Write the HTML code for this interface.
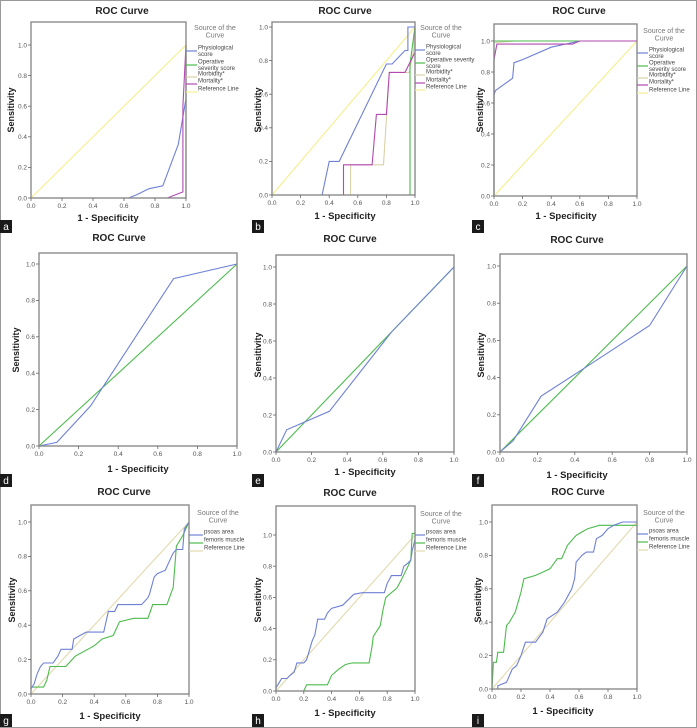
<!DOCTYPE html>
<html><head><meta charset="utf-8">
<style>
html,body{margin:0;padding:0;background:#fff;}
svg{display:block;font-family:"Liberation Sans",sans-serif;}
</style></head>
<body>
<svg id="fig" width="697" height="728" viewBox="0 0 697 728">
<rect x="0.5" y="0.5" width="696" height="727" fill="#fff" stroke="#999" stroke-width="1"/>
</svg>
<script>
// ---- data arrays (x = 1-specificity, y = sensitivity) ----
const refX = [0, 1];
const refY = [0, 1];
// panel a
const aPhysX = [0, 0.63, 0.68, 0.76, 0.85, 0.95, 1, 1];
const aPhysY = [0, 0, 0.02, 0.06, 0.08, 0.35, 0.65, 1];
const aOperX = [0, 1, 1];
const aOperY = [0, 0, 1];
const aMorbX = [0, 1, 1];
const aMorbY = [0, 0, 1];
const aMortX = [0, 0.88, 0.98, 0.98, 1];
const aMortY = [0, 0, 0.04, 0.6, 1];
// panel b
const bPhysX = [0, 0.35, 0.4, 0.47, 0.8, 0.84, 0.93, 0.95, 0.95, 1];
const bPhysY = [0, 0, 0.2, 0.2, 0.78, 0.78, 0.86, 0.86, 1, 1];
const bOperX = [0, 0.965, 0.965, 1];
const bOperY = [0, 0, 0.78, 1];
const bMorbX = [0, 0.55, 0.55, 0.78, 0.82, 0.96, 0.99, 1];
const bMorbY = [0, 0, 0.18, 0.18, 0.73, 0.73, 0.86, 1];
const bMortX = [0, 0.5, 0.5, 0.7, 0.73, 0.8, 0.82, 0.93, 1, 1];
const bMortY = [0, 0, 0.18, 0.18, 0.48, 0.48, 0.73, 0.73, 0.85, 1];
// panel c
const cPhysX = [0, 0, 0.01, 0.13, 0.14, 0.2, 0.4, 0.6, 1];
const cPhysY = [0, 0.65, 0.68, 0.76, 0.86, 0.88, 0.96, 1, 1];
const cOperX = [0, 0, 1];
const cOperY = [0, 1, 1];
const cMorbX = [0, 0, 0.15, 1];
const cMorbY = [0, 0.99, 1, 1];
const cMortX = [0, 0, 0.02, 0.55, 0.6, 1];
const cMortY = [0, 0.88, 0.98, 0.98, 1, 1];
// panels d-f
const dBlueX = [0, 0.09, 0.26, 0.68, 1];
const dBlueY = [0, 0.02, 0.22, 0.92, 1];
const eBlueX = [0, 0.06, 0.3, 0.65, 1];
const eBlueY = [0, 0.12, 0.22, 0.65, 1];
const fBlueX = [0, 0.07, 0.22, 0.45, 0.8, 1];
const fBlueY = [0, 0.06, 0.3, 0.45, 0.68, 1];
// panel g
const gPsoasX = [0,0.02,0.04,0.06,0.08,0.14,0.17,0.19,0.26,0.27,0.31,0.35,0.46,0.49,0.53,0.55,0.7,0.74,0.75,0.78,0.8,0.85,0.88,0.9,0.92,0.96,0.97,1];
const gPsoasY = [0.03,0.06,0.12,0.16,0.18,0.18,0.22,0.26,0.26,0.32,0.34,0.36,0.36,0.48,0.48,0.52,0.52,0.56,0.58,0.68,0.7,0.72,0.78,0.82,0.84,0.84,0.96,1];
const gFemX = [0,0.08,0.1,0.12,0.22,0.28,0.4,0.45,0.52,0.56,0.65,0.74,0.77,0.86,0.9,0.92,0.96,0.98,1];
const gFemY = [0.04,0.04,0.08,0.16,0.16,0.22,0.28,0.32,0.34,0.42,0.44,0.44,0.52,0.52,0.62,0.86,0.92,0.96,1];
// panel h
const hPsoasX = [0,0,0.02,0.04,0.08,0.1,0.13,0.15,0.2,0.22,0.26,0.28,0.3,0.35,0.37,0.4,0.48,0.56,0.62,0.78,0.8,0.83,0.9,0.92,0.95,0.97,0.98,1,1];
const hPsoasY = [0,0.02,0.05,0.08,0.08,0.1,0.12,0.18,0.18,0.2,0.32,0.36,0.46,0.46,0.5,0.53,0.55,0.62,0.63,0.63,0.69,0.74,0.74,0.8,0.82,0.84,0.9,0.97,1];
const hFemX = [0,0.2,0.22,0.37,0.4,0.45,0.5,0.55,0.67,0.69,0.7,0.75,0.77,0.79,0.87,0.9,0.95,0.97,0.98,1];
const hFemY = [0,0,0.04,0.04,0.1,0.14,0.17,0.18,0.18,0.28,0.35,0.42,0.52,0.6,0.66,0.71,0.8,0.84,1.01,1.01];
// panel i
const iPsoasX = [0,0.04,0.04,0.1,0.14,0.17,0.2,0.23,0.3,0.35,0.38,0.45,0.5,0.55,0.57,0.58,0.6,0.62,0.65,0.7,0.72,0.76,0.8,0.84,0.9,1];
const iPsoasY = [0,0,0.02,0.04,0.12,0.14,0.2,0.28,0.28,0.34,0.42,0.46,0.52,0.6,0.66,0.76,0.78,0.8,0.82,0.82,0.9,0.92,0.96,0.98,1,1];
const iFemX = [0,0.01,0.03,0.04,0.08,0.1,0.12,0.16,0.2,0.22,0.3,0.35,0.4,0.45,0.48,0.52,0.58,0.62,0.66,0.74,1];
const iFemY = [0,0.16,0.16,0.22,0.22,0.38,0.4,0.46,0.58,0.66,0.68,0.7,0.72,0.78,0.78,0.86,0.92,0.94,0.96,0.98,0.98];
const tickVals = [0, 0.2, 0.4, 0.6, 0.8, 1.0];
const tickLabels = ["0.0","0.2","0.4","0.6","0.8","1.0"];

// ---- colours ----
const BLUE="#6e80d6", GREEN="#4cbb4c", TAN="#d9d2a6", PURPLE="#b24ab2", YEL="#f4ef8c", REFTAN="#e2d9ad";
const NS="http://www.w3.org/2000/svg";
const svg=document.getElementById('fig');
function mk(tag,attrs,parent){const e=document.createElementNS(NS,tag);for(const k in attrs)e.setAttribute(k,attrs[k]);(parent||svg).appendChild(e);return e;}
function txt(x,y,s,size,opts,parent){const e=mk('text',Object.assign({x:x,y:y,'font-size':size,fill:'#333'},opts||{}),parent);e.textContent=s;return e;}

const panels=[
 {id:'a',x0:31,x1:186,py0:198,py1:45,top:22,title:[122,14],xt:[108,221],yt:[11,110],lab:[0,220],
  series:[[aMorbX,aMorbY,TAN],[aOperX,aOperY,GREEN],[refX,refY,YEL],[aPhysX,aPhysY,BLUE],[aMortX,aMortY,PURPLE]],
  legend:{hx:215,hy:30,tx:198,items:[[["Physiological","score"],51,BLUE],[["Operative","severity score"],65,GREEN],[["Morbidity*"],77,TAN],[["Mortality*"],84,PURPLE],[["Reference Line"],92,YEL]]}},
 {id:'b',x0:272,x1:415,py0:195,py1:27,top:22,title:[345,14],xt:[345,219],yt:[258,110],lab:[252,220],
  series:[[refX,refY,YEL],[bMorbX,bMorbY,TAN],[bOperX,bOperY,GREEN],[bPhysX,bPhysY,BLUE],[bMortX,bMortY,PURPLE]],
  legend:{hx:441,hy:30,tx:426,items:[[["Physiological","score"],50,BLUE],[["Operative severity","score"],63,GREEN],[["Morbidity*"],75,TAN],[["Mortality*"],83,PURPLE],[["Reference Line"],90,YEL]]}},
 {id:'c',x0:494,x1:637,py0:196,py1:41,top:24,title:[579,14],xt:[566,219],yt:[480,110],lab:[472,220],
  series:[[refX,refY,YEL],[cMorbX,cMorbY,TAN],[cOperX,cOperY,GREEN],[cPhysX,cPhysY,BLUE],[cMortX,cMortY,PURPLE]],
  legend:{hx:664,hy:33,tx:649,items:[[["Physiological","score"],53,BLUE],[["Operative","severity score"],66,GREEN],[["Morbidity*"],78,TAN],[["Mortality*"],85,PURPLE],[["Reference Line"],93,YEL]]}},
 {id:'d',x0:39,x1:237,py0:446,py1:264,top:253,title:[119,241],xt:[138,472],yt:[16,350],lab:[0,474],
  series:[[refX,refY,GREEN],[dBlueX,dBlueY,BLUE]]},
 {id:'e',x0:276,x1:454,py0:452,py1:267,top:255,title:[350,242],xt:[365,475],yt:[258,355],lab:[252,474],
  series:[[refX,refY,GREEN],[eBlueX,eBlueY,BLUE]]},
 {id:'f',x0:500,x1:687,py0:452,py1:266,top:254,title:[577,243],xt:[577,478],yt:[481,355],lab:[472,474],
  series:[[refX,refY,GREEN],[fBlueX,fBlueY,BLUE]]},
 {id:'g',x0:31,x1:189,py0:694,py1:522,top:505,title:[124,495],xt:[110,719],yt:[12,600],lab:[0,714],
  series:[[refX,refY,REFTAN],[gFemX,gFemY,GREEN],[gPsoasX,gPsoasY,BLUE]],
  legend:{hx:218,hy:515,tx:204,items:[[["psoas area"],535,BLUE],[["femoris muscle"],543,GREEN],[["Reference Line"],551,REFTAN]]}},
 {id:'h',x0:276,x1:415,py0:691,py1:535,top:506,title:[350,496],xt:[345,716],yt:[258,600],lab:[252,714],
  series:[[refX,refY,REFTAN],[hFemX,hFemY,GREEN],[hPsoasX,hPsoasY,BLUE]],
  legend:{hx:441,hy:516,tx:426,items:[[["psoas area"],535,BLUE],[["femoris muscle"],543,GREEN],[["Reference Line"],551,REFTAN]]}},
 {id:'i',x0:492,x1:637,py0:689,py1:522,top:505,title:[578,495],xt:[563,714],yt:[478,600],lab:[472,714],
  series:[[refX,refY,REFTAN],[iFemX,iFemY,GREEN],[iPsoasX,iPsoasY,BLUE]],
  legend:{hx:664,hy:515,tx:649,items:[[["psoas area"],534,BLUE],[["femoris muscle"],542,GREEN],[["Reference Line"],550,REFTAN]]}}
];

panels.forEach(p=>{
  const g=mk('g',{});
  
  
  const sx=v=>p.x0+v*(p.x1-p.x0);
  const sy=v=>p.py0-v*(p.py0-p.py1);
  // title
  const t=txt(p.title[0],p.title[1],'ROC Curve',10,{'font-weight':'bold','text-anchor':'middle',fill:'#222'},g);
  
  
  // plot frame
  const fr=mk('rect',{x:p.x0,y:p.top,width:p.x1-p.x0,height:p.py0-p.top,fill:'#fff',stroke:'#888','stroke-width':1.2},g);
  
  
  // series
  p.series.forEach((s,k)=>{
    const pts=s[0].map((x,i)=>sx(x).toFixed(1)+','+sy(s[1][i]).toFixed(1)).join(' ');
    const pl=mk('polyline',{points:pts,fill:'none',stroke:s[2],'stroke-width':1.1},g);
    
    
  });
  // redraw frame stroke on top
  mk('rect',{x:p.x0,y:p.top,width:p.x1-p.x0,height:p.py0-p.top,fill:'none',stroke:'#888','stroke-width':1.2},g);
  // ticks
  tickVals.forEach((v,i)=>{
    mk('line',{x1:p.x0-3,x2:p.x0,y1:sy(v),y2:sy(v),stroke:'#666','stroke-width':0.8},g);
    const yl=txt(p.x0-4,sy(v)+2.3,tickLabels[i],6.5,{'text-anchor':'end',fill:'#555'},g);
    
    
    mk('line',{x1:sx(v),x2:sx(v),y1:p.py0,y2:p.py0+3,stroke:'#666','stroke-width':0.8},g);
    const xl=txt(sx(v),p.py0+10,tickLabels[i],6.5,{'text-anchor':'middle',fill:'#555'},g);
    
    
  });
  const xa=txt(p.xt[0],p.xt[1],'1 - Specificity',9.5,{'font-weight':'bold','text-anchor':'middle',fill:'#222'},g);
  
  
  const ya=txt(0,0,'Sensitivity',9,{'font-weight':'bold','text-anchor':'middle',fill:'#222',transform:`translate(${p.yt[0]+3},${p.yt[1]}) rotate(-90)`},g);
  
  
  // panel label
  const lb=mk('rect',{x:p.lab[0],y:p.lab[1],width:12,height:13,fill:'#1a1a1a'},g);
  
  
  const lt=txt(p.lab[0]+6,p.lab[1]+10,p.id,10,{'text-anchor':'middle',fill:'#fff'},g);
  
  
  // legend
  if(p.legend){
    const L=p.legend;
    const lg=mk('g',{},g);
    
    
    txt(L.hx,L.hy,'Source of the',7,{'text-anchor':'middle',fill:'#777'},lg);
    txt(L.hx,L.hy+7.5,'Curve',7,{'text-anchor':'middle',fill:'#777'},lg);
    L.items.forEach(it=>{
      const e=mk('g',{},lg);
      
      
      mk('line',{x1:p.x1,x2:L.tx-1,y1:it[1],y2:it[1],stroke:it[2],'stroke-width':1.2},e);
      it[0].forEach((s,j)=>txt(L.tx,it[1]-1.5+j*6.5,s,6,{fill:'#444'},e));
    });
  }
});
</script>
</body></html>
